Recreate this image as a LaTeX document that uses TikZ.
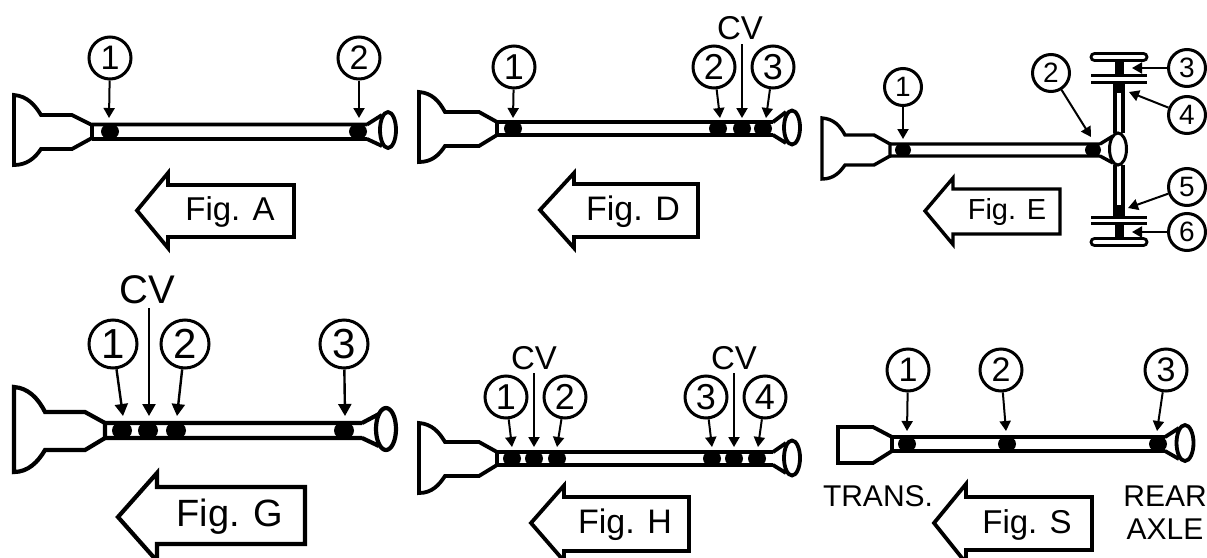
\documentclass[tikz,border=0pt]{standalone}
\usepackage{fontspec}
\setmainfont{Liberation Sans}
\usetikzlibrary{arrows.meta}
\newcommand{\fs}[1]{\fontsize{#1}{#1}\selectfont}
\tikzset{
  outline/.style={line width=#1, line join=miter, draw=black},
  outline/.default=3.8pt,
  callout/.style 2 args={circle, draw=black, line width=3pt, fill=white, inner sep=0pt, minimum size=#1pt, font=\fs{#2}},
  ptr/.style={line width=2pt, -{Triangle[length=10pt,width=11pt]}},
  ptrbig/.style={line width=2.4pt, -{Triangle[length=12pt,width=13pt]}},
  txt/.style={inner sep=0pt, font=\fs{#1}},
  joint/.style={fill=black, draw=none}
}
\begin{document}
\begin{tikzpicture}[x=1pt,y=-1pt]
\useasboundingbox (0,0) rectangle (1207,557);
\clip (0,0) rectangle (1207,557);

%% ---------- Fig. A
\foreach \j in {110,358} \fill[joint] (\j,131.5) ellipse (9 and 8);
\draw[outline] (14,95) .. controls (27,96) and (35,105) .. (41,115) -- (72,115) -- (92,125) -- (92,138) -- (72,149) -- (41,149) .. controls (35,158) and (27,165) .. (14,165) -- cycle;
\draw[outline] (92,124.5) -- (367,124.5) (92,139) -- (367,139) (367,124.5) -- (382,115) (367,139) -- (382,146);
\draw[outline] (388,130) ellipse (8 and 18);
\node[callout={42}{34}] (A1) at (110,58) {1};
\node[callout={42}{34}] (A2) at (359,58) {2};
\coordinate (A1t) at (109,118);
\coordinate (A2t) at (359,118);
\draw[ptr] (A1) -- (A1t);
\draw[ptr] (A2) -- (A2t);
\draw[outline] (137,210.5) -- (168,173) -- (168,185) -- (294,185) -- (294,237) -- (168,237) -- (168,248) -- cycle;
\node[txt=33] (Atxt) at (230,212) {Fig. A};

%% ---------- Fig. D
\foreach \j in {513,718,742,763} \fill[joint] (\j,128.5) ellipse (9 and 8);
\draw[outline] (419,92) .. controls (432,93) and (439,101) .. (445,112) -- (479,112) -- (497,122) -- (497,135) -- (479,146) -- (445,146) .. controls (439,155) and (432,162) .. (419,162) -- cycle;
\draw[outline] (497,122) -- (773,122) (497,135) -- (773,135) (773,122) -- (786,112) (773,135) -- (786,143);
\draw[outline] (792,127.5) ellipse (8 and 17);
\node[callout={42}{36}] (D1) at (514,67) {1};
\node[callout={42}{36}] (D2) at (714,67) {2};
\node[callout={42}{36}] (D3) at (773,67) {3};
\node[txt=33] (DCV) at (740,28) {CV};
\coordinate (D1t) at (513,118);
\coordinate (D2t) at (720,118);
\coordinate (D3t) at (766,118);
\coordinate (DCVt) at (742,118);
\coordinate (DCVs) at (742,44);
\draw[ptr] (D1) -- (D1t);
\draw[ptr] (D2) -- (D2t);
\draw[ptr] (D3) -- (D3t);
\draw[ptr] (DCVs) -- (DCVt);
\draw[outline] (540,210) -- (574,173) -- (574,184) -- (698,184) -- (698,237) -- (574,237) -- (574,248) -- cycle;
\node[txt=34] (Dtxt) at (633,212) {Fig. D};

%% ---------- Fig. E
\foreach \j in {903,1093} \fill[joint] (\j,150) ellipse (8 and 7);
\draw[outline=3.4pt] (822,118) .. controls (834,119) and (840,126) .. (845,135) -- (874,135) -- (890,144) -- (890,156) -- (874,165) -- (845,165) .. controls (840,172) and (834,179) .. (822,179) -- cycle;
\draw[outline=3.4pt] (890,144) -- (1100,144) (890,156) -- (1100,156) (1100,144) -- (1113,136) (1100,156) -- (1113,163);
\draw[outline=3pt] (1118,149) ellipse (8.5 and 16);
% axle
\fill[black] (1113,82) rectangle (1125,93);
\fill[black] (1115,61) rectangle (1124,75);
\fill[black] (1113,205) rectangle (1125,217);
\fill[black] (1115,223) rectangle (1124,238);
\draw[outline=3.8pt] (1115,90) -- (1115,133) (1123,90) -- (1123,133) (1115,165) -- (1115,208) (1123,165) -- (1123,208);
\draw[outline=3pt] (1091,75) -- (1147,75) (1091,82) -- (1147,82) (1091,217) -- (1147,217) (1091,223.5) -- (1147,223.5);
\draw[outline=2.8pt, rounded corners=3.5pt] (1091,53.5) rectangle (1147,60.5);
\draw[outline=2.8pt, rounded corners=3.5pt] (1091,238.5) rectangle (1147,245.5);
\node[callout={37}{28}] (E1) at (903,87) {1};
\node[callout={37}{28}] (E2) at (1051,73) {2};
\node[callout={37}{28}] (E3) at (1187,68) {3};
\node[callout={37}{28}] (E4) at (1187,115) {4};
\node[callout={37}{28}] (E5) at (1187,187) {5};
\node[callout={37}{28}] (E6) at (1187,232) {6};
\coordinate (E1t) at (903,139);
\coordinate (E2t) at (1091,137);
\coordinate (E3t) at (1132,68);
\coordinate (E4t) at (1129,92);
\coordinate (E5t) at (1128,208);
\coordinate (E6t) at (1132,232);
\draw[ptr] (E1) -- (E1t);
\draw[ptr] (E2) -- (E2t);
\draw[ptr] (E3) -- (E3t);
\draw[ptr] (E4) -- (E4t);
\draw[ptr] (E5) -- (E5t);
\draw[ptr] (E6) -- (E6t);
\draw[outline=3.4pt] (925,211) -- (953,178) -- (953,189) -- (1060,189) -- (1060,234) -- (953,234) -- (953,244.5) -- cycle;
\node[txt=29] (Etxt) at (1007,212) {Fig. E};

%% ---------- Fig. G
\foreach \j in {122,148,176,344} \fill[joint] (\j,430.5) ellipse (10 and 9);
\draw[outline=4.2pt] (14,387) .. controls (28,388) and (38,398) .. (45,412) -- (85,412) -- (105,423) -- (105,438) -- (85,450) -- (45,450) .. controls (38,462) and (28,472) .. (14,472) -- cycle;
\draw[outline=4.2pt] (105,423) -- (362,423) (105,438) -- (362,438) (362,423) -- (379,414) (362,438) -- (379,446);
\draw[outline=4.2pt] (386,429) ellipse (10 and 21);
\node[callout={48}{42}] (G1) at (113,344) {1};
\node[callout={48}{42}] (G2) at (185,344) {2};
\node[callout={48}{42}] (G3) at (344,344) {3};
\node[txt=40] (GCV) at (147,290) {CV};
\coordinate (G1t) at (123,416);
\coordinate (G2t) at (177,416);
\coordinate (G3t) at (345,416);
\coordinate (GCVt) at (149,416);
\coordinate (GCVs) at (149,308);
\draw[ptrbig] (G1) -- (G1t);
\draw[ptrbig] (G2) -- (G2t);
\draw[ptrbig] (G3) -- (G3t);
\draw[ptrbig] (GCVs) -- (GCVt);
\draw[outline=4.2pt] (118,517) -- (157,473) -- (157,487) -- (305,487) -- (305,544) -- (157,544) -- (157,561) -- cycle;
\node[txt=38] (Gtxt) at (230,517) {Fig. G};

%% ---------- Fig. H
\foreach \j in {512,534,557,712,734,757} \fill[joint] (\j,458.5) ellipse (9 and 8);
\draw[outline] (419,423) .. controls (432,424) and (439,432) .. (445,442) -- (479,442) -- (497,452) -- (497,465) -- (479,476) -- (445,476) .. controls (439,485) and (432,493) .. (419,493) -- cycle;
\draw[outline] (497,452) -- (773,452) (497,465) -- (773,465) (773,452) -- (786,443) (773,465) -- (786,473);
\draw[outline] (792,458) ellipse (8 and 17.5);
\node[callout={42}{36}] (H1) at (506,397) {1};
\node[callout={42}{36}] (H2) at (565,397) {2};
\node[callout={42}{36}] (H3) at (706,397) {3};
\node[callout={42}{36}] (H4) at (765,397) {4};
\node[txt=33] (HCVa) at (534,358) {CV};
\node[txt=33] (HCVb) at (734,358) {CV};
\coordinate (H1t) at (512,447);
\coordinate (H2t) at (557,447);
\coordinate (H3t) at (712,447);
\coordinate (H4t) at (758,447);
\coordinate (HCVat) at (534,447);
\coordinate (HCVas) at (534,373);
\coordinate (HCVbt) at (734,447);
\coordinate (HCVbs) at (734,373);
\draw[ptr] (H1) -- (H1t);
\draw[ptr] (H2) -- (H2t);
\draw[ptr] (H3) -- (H3t);
\draw[ptr] (H4) -- (H4t);
\draw[ptr] (HCVas) -- (HCVat);
\draw[ptr] (HCVbs) -- (HCVbt);
\draw[outline] (531,523) -- (564,485.5) -- (564,497) -- (689,497) -- (689,551) -- (564,551) -- (564,561) -- cycle;
\node[txt=34] (Htxt) at (625,525) {Fig. H};

%% ---------- Fig. S
\foreach \j in {907,1007,1158} \fill[joint] (\j,444) ellipse (9 and 8);
\draw[outline] (838,427) -- (873,427) -- (892,437) -- (892,451) -- (873,463) -- (838,463) -- cycle;
\draw[outline] (892,437) -- (1165,437) (892,451) -- (1165,451) (1165,437) -- (1179,428) (1165,451) -- (1179,459);
\draw[outline] (1185,443) ellipse (8.5 and 18);
\node[callout={42}{34}] (S1) at (908,370) {1};
\node[callout={42}{34}] (S2) at (1001,370) {2};
\node[callout={42}{34}] (S3) at (1166,370) {3};
\coordinate (S1t) at (907,431);
\coordinate (S2t) at (1006,431);
\coordinate (S3t) at (1157,431);
\draw[ptr] (S1) -- (S1t);
\draw[ptr] (S2) -- (S2t);
\draw[ptr] (S3) -- (S3t);
\draw[outline] (934,523) -- (966,484) -- (966,497) -- (1092,497) -- (1092,550) -- (966,550) -- (966,563) -- cycle;
\node[txt=33] (Stxt) at (1027,525) {Fig. S};
\node[txt=30] (Strans) at (878,496) {TRANS.};
\node[txt=30] (Srear) at (1165,496) {REAR};
\node[txt=30] (Saxle) at (1165,529) {AXLE};
\end{tikzpicture}
\end{document}
